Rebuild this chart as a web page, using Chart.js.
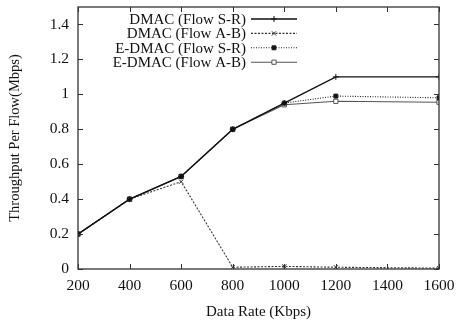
<!DOCTYPE html>
<html>
<head>
<meta charset="utf-8">
<script src="https://cdn.jsdelivr.net/npm/chart.js@4"></script>
<style>
  html, body { margin: 0; padding: 0; background: #fff; }
  #wrap { width: 458px; height: 321px; }
</style>
</head>
<body>
<div id="wrap"><canvas id="grafica" width="458" height="321"></canvas></div>
<script>
// datos
const tasas = [200, 400, 600, 800, 1000, 1200, 1600];
const dmacSR = [0.2, 0.4, 0.53, 0.8, 0.95, 1.1, 1.1];
const dmacAB = [0.2, 0.4, 0.5, 0.01, 0.015, 0.01, 0.005];
const edmacSR = [0.2, 0.4, 0.53, 0.8, 0.95, 0.99, 0.98];
const edmacAB = [0.2, 0.4, 0.53, 0.8, 0.94, 0.96, 0.955];
const ticksX = [200, 400, 600, 800, 1000, 1200, 1400, 1600];
const ticksY = [0, 0.2, 0.4, 0.6, 0.8, 1, 1.2, 1.4];

const FUENTE = "'Liberation Serif', 'DejaVu Serif', serif";

const puntos = xs => xs.map((v, i) => ({ x: tasas[i], y: v }));

// marcas hacia adentro en los cuatro lados (estilo gnuplot)
const marcasInternas = {
    id: 'marcasInternas',
    afterDraw(chart) {
        const { ctx, chartArea: a, scales } = chart;
        ctx.save();
        ctx.strokeStyle = '#333';
        ctx.lineWidth = 1;
        ctx.beginPath();
        ticksX.forEach(v => {
            const px = Math.round(scales.x.getPixelForValue(v)) + 0.5;
            ctx.moveTo(px, a.bottom); ctx.lineTo(px, a.bottom - 5);
            ctx.moveTo(px, a.top); ctx.lineTo(px, a.top + 5);
        });
        ticksY.forEach(v => {
            const py = Math.round(scales.y.getPixelForValue(v)) + 0.5;
            ctx.moveTo(a.left, py); ctx.lineTo(a.left + 5, py);
            ctx.moveTo(a.right, py); ctx.lineTo(a.right - 5, py);
        });
        ctx.stroke();
        ctx.lineWidth = 1.3;
        ctx.strokeRect(a.left, a.top, a.right - a.left, a.bottom - a.top);
        ctx.restore();
    }
};

// leyenda estilo gnuplot: texto a la izquierda, muestra a la derecha
const leyenda = {
    id: 'leyenda',
    afterDraw(chart) {
        const ctx = chart.ctx;
        ctx.save();
        ctx.font = '15px ' + FUENTE;
        ctx.textAlign = 'right';
        ctx.textBaseline = 'middle';
        chart.data.datasets.forEach((ds, i) => {
            const y = 19 + i * 14.4;
            ctx.fillStyle = '#111';
            ctx.fillText(ds.label, 246, y + 1);
            ctx.strokeStyle = ds.borderColor;
            ctx.lineWidth = ds.borderWidth;
            ctx.setLineDash(ds.borderDash || []);
            ctx.beginPath();
            ctx.moveTo(251, y); ctx.lineTo(297, y);
            ctx.stroke();
            ctx.setLineDash([]);
            ctx.lineWidth = 1;
            ctx.fillStyle = ds.pointBackgroundColor;
            Chart.helpers.drawPoint(ctx, {
                pointStyle: ds.pointStyle,
                radius: ds.pointRadius,
                rotation: 0,
                borderWidth: 1
            }, 274, y);
        });
        ctx.restore();
    }
};

const series = [
    { label: 'DMAC (Flow S-R)', data: puntos(dmacSR), borderColor: '#111', borderWidth: 1.4,
      pointStyle: 'cross', pointRadius: 3, pointBackgroundColor: '#111' },
    { label: 'DMAC (Flow A-B)', data: puntos(dmacAB), borderColor: '#333', borderWidth: 1.1,
      borderDash: [2, 1.5], pointStyle: 'crossRot', pointRadius: 3, pointBackgroundColor: '#333' },
    { label: 'E-DMAC (Flow S-R)', data: puntos(edmacSR), borderColor: '#222', borderWidth: 1.1,
      borderDash: [1, 1.5], pointStyle: 'rect', pointRadius: 2.8, pointBackgroundColor: '#111' },
    { label: 'E-DMAC (Flow A-B)', data: puntos(edmacAB), borderColor: '#555', borderWidth: 1.1,
      pointStyle: 'rect', pointRadius: 3, pointBackgroundColor: '#fff' }
];

series.forEach(s => {
    s.pointBorderColor = s.borderColor;
    s.pointBorderWidth = 1;
    s.pointHoverRadius = s.pointRadius;
    s.tension = 0;
    s.fill = false;
});

new Chart(document.getElementById('grafica'), {
    type: 'line',
    data: { datasets: series },
    options: {
        responsive: false,
        animation: false,
        events: [],
        layout: { padding: { top: 7, right: 19, left: 0, bottom: 0 } },
        plugins: { legend: { display: false }, tooltip: { enabled: false } },
        scales: {
            x: {
                type: 'linear', min: 200, max: 1600,
                afterBuildTicks: s => { s.ticks = ticksX.map(v => ({ value: v })); },
                afterFit: s => { s.height = 52; s.paddingLeft = 0; s.paddingRight = 0; },
                grid: { display: false, drawTicks: false },
                border: { display: false },
                ticks: { color: '#111', padding: 8, font: { family: FUENTE, size: 15.5 }, maxRotation: 0,
                         callback: v => String(v) },
                title: { display: true, text: 'Data Rate (Kbps)', color: '#111',
                         font: { family: FUENTE, size: 15 }, padding: { top: 4, bottom: 0 } }
            },
            y: {
                min: 0, max: 1.5,
                afterBuildTicks: s => { s.ticks = ticksY.map(v => ({ value: v })); },
                afterFit: s => { s.width = 78; s.paddingTop = 0; s.paddingBottom = 0; },
                grid: { display: false, drawTicks: false },
                border: { display: false },
                ticks: { color: '#111', padding: 9, font: { family: FUENTE, size: 15.5 },
                         callback: v => String(Math.round(v * 10) / 10) },
                title: { display: true, text: 'Throughput Per Flow(Mbps)', color: '#111',
                         font: { family: FUENTE, size: 14.5 }, padding: { top: 6, bottom: 6 } }
            }
        }
    },
    plugins: [marcasInternas, leyenda]
});
</script>
</body>
</html>
